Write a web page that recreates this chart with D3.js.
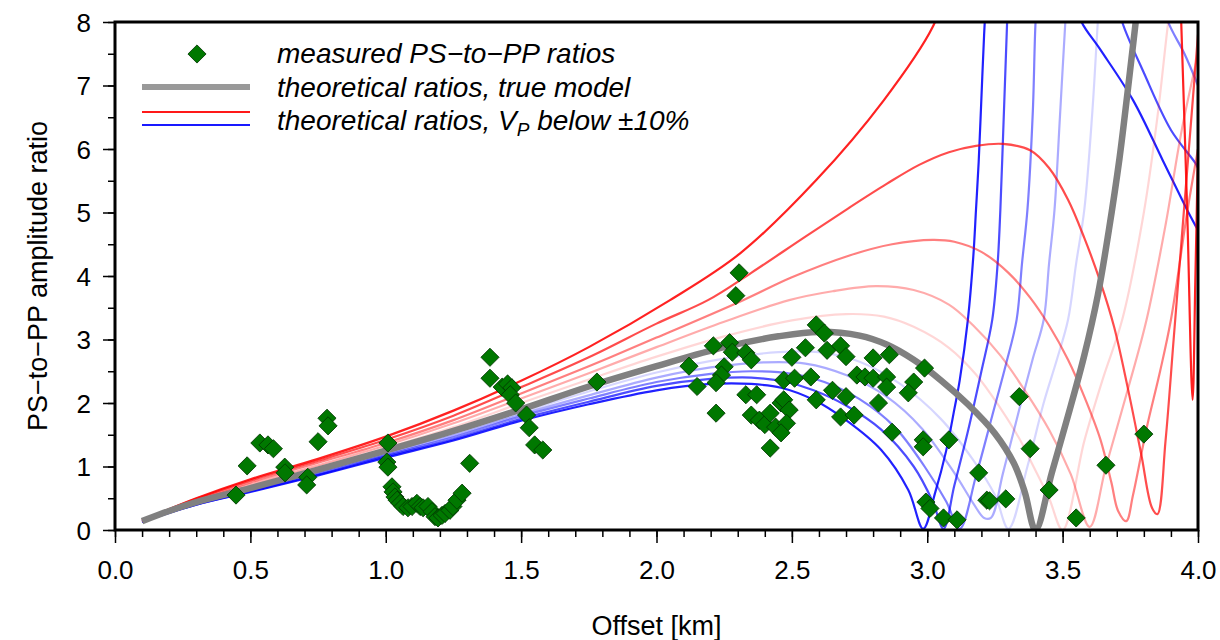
<!DOCTYPE html>
<html>
<head>
<meta charset="utf-8">
<script src="https://cdn.jsdelivr.net/npm/d3@7"></script>
<style>
  body { margin: 0; background: #fff; }
  svg { display: block; font-family: "Liberation Sans", Arial, Helvetica, sans-serif; }
</style>
</head>
<body>
<svg id="chart" width="1220" height="640"></svg>
<script>
// ---- axis ticks ----
const offsetTicks = [0.0, 0.5, 1.0, 1.5, 2.0, 2.5, 3.0, 3.5, 4.0];
const offsetMinorTicks = d3.range(0, 41).map(i => i / 10);
const ratioTicks = [0, 1, 2, 3, 4, 5, 6, 7, 8];
const ratioMinorTicks = d3.range(0, 17).map(i => i / 2);

// ---- measured PS-to-PP amplitude ratios [offset km, ratio] ----
const measured = [
  [0.447,0.55],[0.488,1.01],[0.535,1.37],[0.565,1.34],[0.585,1.28],[0.627,0.99],[0.628,0.90],
  [0.712,0.83],[0.708,0.71],[0.750,1.39],[0.783,1.76],[0.787,1.64],
  [1.008,1.37],[1.004,1.07],[1.008,0.99],
  [1.023,0.68],[1.027,0.60],[1.034,0.52],[1.042,0.47],[1.053,0.42],[1.064,0.37],[1.082,0.35],
  [1.097,0.37],[1.115,0.42],[1.127,0.37],[1.138,0.35],[1.156,0.37],[1.171,0.29],[1.182,0.21],
  [1.193,0.19],[1.208,0.23],[1.219,0.26],[1.237,0.31],[1.248,0.37],[1.263,0.47],[1.282,0.58],
  [1.31,1.05],
  [1.385,2.72],[1.385,2.39],[1.43,2.25],[1.45,2.30],[1.466,2.24],[1.46,2.13],[1.48,2.00],
  [1.52,1.81],[1.53,1.61],[1.55,1.34],[1.58,1.26],
  [1.78,2.33],
  [2.305,4.05],[2.293,3.69],[2.21,2.90],[2.27,2.95],[2.28,2.80],[2.33,2.79],[2.35,2.68],
  [2.12,2.58],[2.25,2.57],[2.24,2.44],[2.22,2.32],[2.15,2.26],[2.22,1.84],[2.33,2.13],
  [2.37,2.13],[2.35,1.81],[2.38,1.73],[2.40,1.66],[2.44,1.62],[2.42,1.84],[2.46,2.00],
  [2.47,2.05],[2.49,1.89],[2.48,1.68],[2.46,1.53],[2.42,1.29],[2.50,2.72],[2.55,2.87],
  [2.47,2.36],[2.51,2.39],[2.57,2.41],[2.59,3.23],[2.62,3.10],[2.63,2.83],[2.68,2.90],
  [2.70,2.73],[2.65,2.20],[2.70,2.10],[2.59,2.05],[2.68,1.78],[2.73,1.81],[2.74,2.44],
  [2.77,2.41],[2.80,2.39],[2.80,2.71],[2.86,2.76],[2.85,2.41],[2.85,2.25],[2.82,2.00],
  [2.95,2.33],[2.93,2.16],[2.99,2.55],[2.87,1.54],[2.985,1.42],[2.985,1.31],[3.08,1.42],
  [3.19,0.90],[3.34,2.10],[3.38,1.28],[2.995,0.44],[3.01,0.34],[3.06,0.19],[3.11,0.16],
  [3.22,0.47],[3.23,0.46],[3.29,0.49],[3.45,0.63],[3.55,0.19],[3.66,1.02],[3.80,1.51]
];

// ---- theoretical ratios [offset km, ratio]; null marks a break where the ratio is unbounded ----
const trueModel = [[0.1,0.14],[0.2,0.3],[0.3,0.44],[0.5,0.66],[0.75,0.95],[1.0,1.25],[1.25,1.56],
  [1.5,1.9],[1.75,2.26],[2.0,2.58],[2.25,2.88],[2.45,3.05],[2.6,3.12],[2.75,3.06],[2.85,2.92],
  [2.95,2.68],[3.05,2.36],[3.15,1.98],[3.25,1.52],[3.32,1.05],[3.36,0.6],[3.4,0.0],[3.46,0.9],
  [3.52,1.8],[3.58,2.75],[3.63,3.7],[3.67,4.7],[3.71,5.85],[3.74,6.9],[3.77,8.0],[3.8,9.1]];

const vpPlus10 = [[0.1,0.15],[0.3,0.5],[0.5,0.8],[0.75,1.12],[1.0,1.47],[1.25,1.88],[1.5,2.35],
  [1.75,2.88],[2.05,3.62],[2.31,4.36],[2.59,5.51],[2.84,6.77],[3.02,7.92],[3.06,8.4],null,
  [3.935,8.4],[3.96,5.04],[3.98,2.05],[3.99,3.9],[4.0,6.0]];
const vpPlus8 = [[0.1,0.15],[0.3,0.49],[0.5,0.78],[0.75,1.09],[1.0,1.42],[1.25,1.8],[1.5,2.25],
  [1.75,2.72],[2.0,3.25],[2.19,3.62],[2.35,4.05],[2.55,4.62],[2.71,5.07],[2.85,5.45],[2.97,5.75],
  [3.08,5.95],[3.18,6.05],[3.28,6.08],[3.38,5.98],[3.45,5.7],[3.52,5.2],[3.58,4.6],[3.64,3.9],
  [3.69,3.2],[3.74,2.25],[3.79,1.2],[3.83,0.35],[3.85,0.25],[3.88,1.4],[3.91,3.0],[3.94,4.6],
  [3.97,6.2],[4.0,7.8]];
const vpPlus6 = [[0.1,0.14],[0.3,0.47],[0.5,0.75],[0.75,1.06],[1.0,1.37],[1.25,1.73],[1.5,2.15],
  [1.75,2.58],[2.0,3.03],[2.32,3.62],[2.5,3.98],[2.71,4.32],[2.87,4.5],[3.02,4.57],[3.1,4.54],
  [3.2,4.38],[3.3,4.05],[3.38,3.66],[3.45,3.22],[3.52,2.68],[3.58,2.1],[3.64,1.42],[3.68,0.75],
  [3.705,0.3],[3.735,0.14],[3.76,0.55],[3.81,1.6],[3.86,2.5],[3.9,3.31],[3.96,5.0],[4.0,6.0]];
const vpPlus4 = [[0.1,0.14],[0.3,0.46],[0.5,0.72],[0.75,1.02],[1.0,1.33],[1.25,1.68],[1.5,2.07],
  [1.75,2.47],[2.0,2.88],[2.25,3.28],[2.49,3.62],[2.65,3.76],[2.81,3.84],[2.95,3.78],[3.08,3.55],
  [3.17,3.22],[3.27,2.75],[3.36,2.2],[3.45,1.58],[3.53,0.88],[3.6,0.05],[3.66,1.0],[3.74,2.2],
  [3.81,3.31],[3.88,4.8],[3.94,6.3],[4.0,7.5]];
const vpPlus2 = [[0.1,0.14],[0.3,0.45],[0.5,0.69],[0.75,0.99],[1.0,1.29],[1.25,1.62],[1.5,2.0],
  [1.75,2.37],[2.0,2.73],[2.25,3.05],[2.5,3.3],[2.7,3.4],[2.84,3.36],[2.95,3.2],[3.08,2.87],
  [3.18,2.45],[3.27,1.92],[3.34,1.44],[3.39,1.02],[3.45,0.5],[3.5,0.0],[3.58,1.4],[3.65,2.4],
  [3.72,3.31],[3.8,5.0],[3.85,6.5],[3.89,8.0],[3.91,8.6]];

const vpMinus2 = [[0.1,0.13],[0.3,0.43],[0.5,0.64],[0.75,0.93],[1.0,1.22],[1.25,1.52],[1.5,1.85],
  [1.75,2.18],[2.0,2.48],[2.25,2.7],[2.45,2.8],[2.6,2.8],[2.75,2.65],[2.9,2.3],[3.05,1.75],
  [3.17,1.1],[3.25,0.55],[3.3,0.02],[3.37,1.0],[3.43,2.0],[3.48,2.7],[3.52,3.31],[3.55,4.2],
  [3.58,5.04],[3.61,6.6],[3.63,8.0],[3.64,8.6]];
const vpMinus4 = [[0.1,0.13],[0.3,0.42],[0.5,0.63],[0.75,0.91],[1.0,1.2],[1.25,1.49],[1.5,1.82],
  [1.75,2.12],[2.0,2.4],[2.2,2.56],[2.4,2.64],[2.55,2.62],[2.7,2.44],[2.85,2.1],[2.98,1.6],
  [3.1,0.9],[3.17,0.42],[3.21,0.19],[3.235,0.19],[3.28,0.9],[3.34,1.9],[3.39,2.7],[3.43,3.31],
  [3.45,4.2],[3.47,5.04],[3.49,6.5],[3.51,8.0],[3.52,8.6]];
const vpMinus6 = [[0.1,0.13],[0.3,0.41],[0.5,0.62],[0.75,0.89],[1.0,1.18],[1.25,1.46],[1.5,1.79],
  [1.75,2.07],[2.0,2.33],[2.2,2.46],[2.35,2.5],[2.5,2.46],[2.62,2.33],[2.75,2.06],[2.88,1.62],
  [2.99,1.0],[3.07,0.45],[3.12,0.02],[3.18,0.85],[3.24,1.8],[3.29,2.6],[3.33,3.31],[3.35,4.2],
  [3.37,5.04],[3.39,6.6],[3.4,8.0],[3.41,8.6],null,[3.87,8.4],[3.89,8.0],[3.95,7.5],[4.0,7.0]];
const vpMinus8 = [[0.1,0.13],[0.3,0.4],[0.5,0.61],[0.75,0.87],[1.0,1.16],[1.25,1.43],[1.5,1.75],
  [1.75,2.02],[2.0,2.27],[2.2,2.38],[2.35,2.4],[2.48,2.33],[2.58,2.2],[2.7,1.96],[2.83,1.58],
  [2.95,1.0],[3.02,0.45],[3.06,0.02],[3.1,0.7],[3.15,1.55],[3.2,2.5],[3.24,3.31],[3.26,4.2],
  [3.27,5.04],[3.28,6.2],[3.29,7.4],[3.3,8.6],null,[3.7,8.4],[3.72,8.0],[3.8,7.2],[3.9,6.3],
  [3.99,5.78],[4.0,5.7]];
const vpMinus10 = [[0.1,0.13],[0.3,0.4],[0.5,0.6],[0.75,0.86],[1.0,1.14],[1.25,1.41],[1.5,1.72],
  [1.75,1.98],[2.0,2.2],[2.2,2.3],[2.35,2.3],[2.46,2.24],[2.58,2.05],[2.7,1.73],[2.83,1.26],
  [2.93,0.63],[2.985,0.02],[3.03,0.6],[3.07,1.25],[3.1,1.9],[3.12,2.36],[3.15,3.31],[3.17,4.3],
  [3.18,5.04],[3.19,5.8],[3.2,6.8],[3.21,7.8],[3.22,8.6],null,[3.55,8.3],[3.57,8.0],[3.64,7.56],
  [3.76,6.77],[3.87,5.82],[3.96,5.04],[4.0,4.72]];

// drawing order and stroke opacity for the perturbed models
const blueSeries = [
  { data: vpMinus2, opacity: 0.16 }, { data: vpMinus4, opacity: 0.33 },
  { data: vpMinus6, opacity: 0.5 }, { data: vpMinus8, opacity: 0.7 },
  { data: vpMinus10, opacity: 0.87 }
];
const redSeries = [
  { data: vpPlus2, opacity: 0.16 }, { data: vpPlus4, opacity: 0.33 },
  { data: vpPlus6, opacity: 0.5 }, { data: vpPlus8, opacity: 0.7 },
  { data: vpPlus10, opacity: 0.87 }
];

// ---- layout ----
const svg = d3.select("#chart");
const plot = { left: 115, top: 22, right: 1198, bottom: 530 };
const x = d3.scaleLinear().domain([0, 4]).range([plot.left, plot.right]);
const y = d3.scaleLinear().domain([0, 8]).range([plot.bottom, plot.top]);

svg.append("defs").append("clipPath").attr("id", "plotClip")
  .append("rect")
  .attr("x", plot.left).attr("y", plot.top)
  .attr("width", plot.right - plot.left).attr("height", plot.bottom - plot.top);

const line = d3.line()
  .defined(d => d !== null)
  .x(d => x(d[0]))
  .y(d => y(d[1]))
  .curve(d3.curveCatmullRom.alpha(0.5));

const curves = svg.append("g").attr("clip-path", "url(#plotClip)");

blueSeries.forEach(s => {
  curves.append("path").attr("d", line(s.data))
    .attr("fill", "none").attr("stroke", "#0000ff")
    .attr("stroke-opacity", s.opacity).attr("stroke-width", 2.2)
    .attr("stroke-linejoin", "round");
});
redSeries.forEach(s => {
  curves.append("path").attr("d", line(s.data))
    .attr("fill", "none").attr("stroke", "#ff0000")
    .attr("stroke-opacity", s.opacity).attr("stroke-width", 2.2)
    .attr("stroke-linejoin", "round");
});
curves.append("path").attr("d", line(trueModel))
  .attr("fill", "none").attr("stroke", "#808080").attr("stroke-width", 6.5)
  .attr("stroke-linejoin", "round");

// measured ratios as diamonds
const diamond = d3.symbol().type(d3.symbolSquare).size(165)();
svg.append("g").selectAll("path").data(measured).join("path")
  .attr("d", diamond)
  .attr("transform", d => `translate(${x(d[0])},${y(d[1])}) rotate(45)`)
  .attr("fill", "#007800").attr("stroke", "#003800").attr("stroke-width", 0.8);

// ---- axes ----
const xAxis = svg.append("g").attr("transform", `translate(0,${plot.bottom})`)
  .call(d3.axisBottom(x).tickValues(offsetTicks).tickFormat(d3.format(".1f")).tickSize(13).tickPadding(18));
const xMinor = svg.append("g").attr("transform", `translate(0,${plot.bottom})`)
  .call(d3.axisBottom(x).tickValues(offsetMinorTicks).tickFormat("").tickSize(7));
const yAxis = svg.append("g").attr("transform", `translate(${plot.left},0)`)
  .call(d3.axisLeft(y).tickValues(ratioTicks).tickFormat(d3.format("d")).tickSize(12).tickPadding(12));
const yMinor = svg.append("g").attr("transform", `translate(${plot.left},0)`)
  .call(d3.axisLeft(y).tickValues(ratioMinorTicks).tickFormat("").tickSize(7));

[xAxis, xMinor, yAxis, yMinor].forEach(g => {
  g.select(".domain").remove();
  g.selectAll(".tick line").attr("stroke", "#000").attr("stroke-width", 1.5);
  g.selectAll(".tick text").attr("fill", "#000")
    .style("font-size", "26px").style("font-family", "'Liberation Sans', Arial, sans-serif");
});
yAxis.selectAll(".tick text").attr("dy", "0.36em");

// frame
svg.append("rect")
  .attr("x", plot.left).attr("y", plot.top)
  .attr("width", plot.right - plot.left).attr("height", plot.bottom - plot.top)
  .attr("fill", "none").attr("stroke", "#000").attr("stroke-width", 3);

// axis titles
svg.append("text")
  .attr("x", (plot.left + plot.right) / 2).attr("y", 635)
  .attr("text-anchor", "middle").style("font-size", "27px")
  .text("Offset [km]");
svg.append("text")
  .attr("transform", `translate(47,${(plot.top + plot.bottom) / 2}) rotate(-90)`)
  .attr("text-anchor", "middle").style("font-size", "27px")
  .text("PS\u2212to\u2212PP amplitude ratio");

// ---- legend ----
const legend = svg.append("g");
legend.append("path").attr("d", diamond)
  .attr("transform", "translate(197,54) rotate(45)")
  .attr("fill", "#007800").attr("stroke", "#003800").attr("stroke-width", 0.8);
legend.append("line").attr("x1", 142).attr("x2", 250).attr("y1", 87).attr("y2", 87)
  .attr("stroke", "#999").attr("stroke-width", 6);
legend.append("line").attr("x1", 142).attr("x2", 250).attr("y1", 112).attr("y2", 112)
  .attr("stroke", "#ff0000").attr("stroke-opacity", 0.9).attr("stroke-width", 2);
legend.append("line").attr("x1", 142).attr("x2", 250).attr("y1", 125).attr("y2", 125)
  .attr("stroke", "#0000ff").attr("stroke-opacity", 0.9).attr("stroke-width", 2);

const legendText = legend.append("g")
  .style("font-size", "28px").style("font-style", "italic");
legendText.append("text").attr("x", 277).attr("y", 63).text("measured PS\u2212to\u2212PP ratios");
legendText.append("text").attr("x", 277).attr("y", 97).text("theoretical ratios, true model");
const t3 = legendText.append("text").attr("x", 277).attr("y", 130);
t3.append("tspan").text("theoretical ratios, V");
t3.append("tspan").attr("dy", 6).style("font-size", "19px").text("P");
t3.append("tspan").attr("dy", -6).text(" below \u00b110%");
</script>
</body>
</html>
